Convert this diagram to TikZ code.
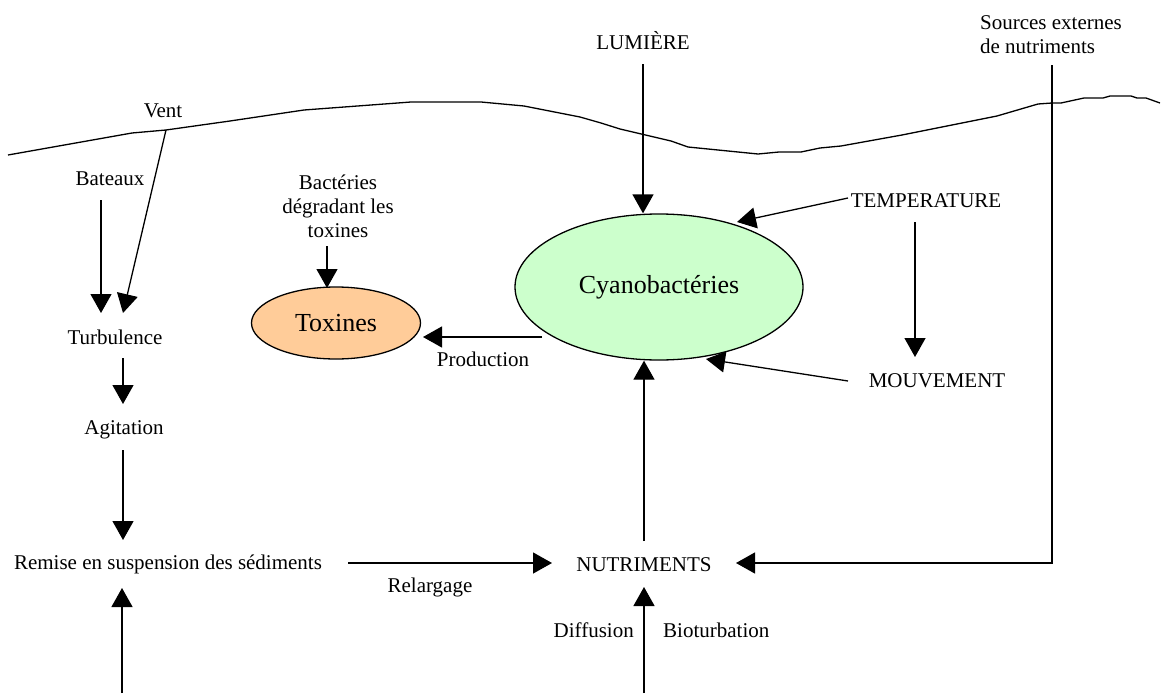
\documentclass[tikz,border=0pt]{standalone}
\usepackage{fontspec}
\setmainfont{Liberation Serif}
\usetikzlibrary{arrows.meta,shapes.geometric}
\definecolor{cyanofill}{HTML}{CCFFCC}
\definecolor{toxfill}{HTML}{FFCC99}
\begin{document}
\begin{tikzpicture}[x=1pt,y=-1pt,
  lbl/.style={inner sep=0pt, font=\fontsize{21}{24}\selectfont, text height=14pt, text depth=4.5pt},
  ml/.style={inner sep=0pt, font=\fontsize{21}{24}\selectfont},
  blob/.style={ellipse, draw, line width=1.3pt, inner sep=0pt, font=\fontsize{26}{30}\selectfont},
  arr/.style={line width=1.3pt, -{Triangle[length=19pt,width=21pt]}},
  ln/.style={line width=1.3pt, line join=round}]
\useasboundingbox (0,0) rectangle (1174,693);

% water surface
\draw[ln] (8,155) -- (132,133) -- (166,130) -- (230,121) -- (304,110) -- (411,102) -- (481,102)
  -- (524,106) -- (580,117) -- (601,123) -- (620,129) -- (671,141) -- (688,147) -- (758,154)
  -- (779,152) -- (801,152) -- (820,148) -- (841,146) -- (902,135) -- (997,116) -- (1038,104)
  -- (1052,103) -- (1061,103) -- (1084,98) -- (1103,98) -- (1110,96) -- (1131,96) -- (1137,98)
  -- (1146,98) -- (1160,103);

% nodes
\node[lbl] (vent) at (163,113) {Vent};
\node[lbl] (bat) at (110,181) {Bateaux};
\node[lbl] (turb) at (115,340) {Turbulence};
\node[lbl] (agit) at (124,430) {Agitation};
\node[lbl] (remise) at (168,565) {Remise en suspension des sédiments};
\node[lbl] (relarg) at (430,588) {Relargage};
\node[lbl] (nutr) at (644,567) {NUTRIMENTS};
\node[lbl, anchor=east] (diff) at (634,633) {Diffusion};
\node[lbl, anchor=west] (biot) at (663,633) {Bioturbation};
\node[blob, fill=cyanofill, minimum width=288pt, minimum height=146pt] (cyano) at (659,287) {Cyanobactéries};
\node[blob, fill=toxfill, minimum width=169pt, minimum height=72pt] (tox) at (336,323) {Toxines};
\node[ml, align=center] (bact) at (338,206) {Bactéries\\dégradant les\\toxines};
\node[lbl] (prod) at (483,362) {Production};
\node[lbl] (lum) at (643,45) {LUMIÈRE};
\node[lbl] (temp) at (926,203) {TEMPERATURE};
\node[lbl] (mouv) at (937,383) {MOUVEMENT};
\node[ml, align=left] (src) at (1051,35) {Sources externes\\de nutriments};
\coordinate (sedL) at (122,693);
\coordinate (sedN) at (644,693);

% connectors
\draw[arr] ([shift={(-9,19)}]bat.center) -- ([shift={(-14,-27)}]turb.center);
\draw[arr] ([shift={(3,17)}]vent.center) -- ([shift={(8,-27)}]turb.center);
\draw[arr] ([shift={(8,18)}]turb.center) -- ([shift={(-1,-26)}]agit.center);
\draw[arr] ([shift={(-1,20)}]agit.center) -- ([shift={(-45,-25)}]remise.center);
\draw[arr] (sedL) -- ([shift={(-46,23)}]remise.center);
\draw[arr] ([shift={(180,-2)}]remise.center) -- ([shift={(-92,-4)}]nutr.center);
\draw[arr] ([shift={(1,30)}]src.center) |- ([shift={(92,-4)}]nutr.center);
\draw[arr] ([shift={(0,-26)}]nutr.center) -- (nutr.center |- cyano.south);
\draw[arr] (sedN) -- ([shift={(0,20)}]nutr.center);
\draw[arr] ([shift={(0,19)}]lum.center) -- (lum.center |- cyano.north);
\draw[arr] ([shift={(-78,-5)}]temp.center) -- ([shift={(78,-65)}]cyano.center);
\draw[arr] ([shift={(-11,19)}]temp.center) -- ([shift={(-22,-26)}]mouv.center);
\draw[arr] ([shift={(-89,-2)}]mouv.center) -- ([shift={(47,72)}]cyano.center);
\draw[arr] ([shift={(-11,40)}]bact.center) -- ([shift={(-9,-35)}]tox.center);
\draw[arr] ([shift={(-117,50)}]cyano.center) -- ([shift={(87,14)}]tox.center);
\end{tikzpicture}
\end{document}
